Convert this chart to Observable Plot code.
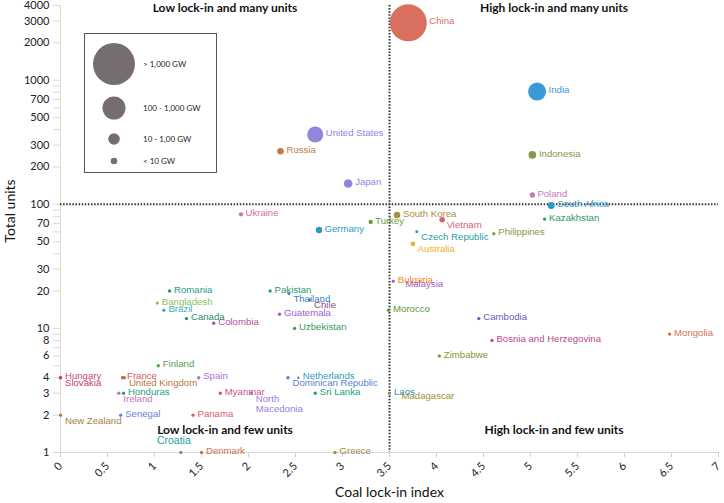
<!DOCTYPE html>
<html><head><meta charset="utf-8">
<script src="https://cdn.jsdelivr.net/npm/d3@7"></script>
<script src="https://cdn.jsdelivr.net/npm/@observablehq/plot@0.6"></script>
<style>
body{margin:0;background:#fff;}
#wrap{position:relative;width:724px;height:503px;overflow:hidden;}
#legend{position:absolute;left:84px;top:33px;}
</style></head><body><div id="wrap"></div>
<script>
// ---- data ----
const countries = ["China","India","United States","Russia","Japan","Indonesia","Poland","South Africa","Kazakhstan","Philippines","South Korea","Vietnam","Turkey","Czech Republic","Australia","Germany","Ukraine","Bulgaria","Malaysia","Morocco","Cambodia","Bosnia and Herzegovina","Mongolia","Zimbabwe","Laos","Madagascar","Romania","Bangladesh","Brazil","Canada","Colombia","Pakistan","Thailand","Chile","Guatemala","Uzbekistan","Finland","Hungary","Slovakia","France","United Kingdom","Honduras","Ireland","New Zealand","Senegal","Spain","Myanmar","North Macedonia","Panama","Croatia","Denmark","Greece","Netherlands","Dominican Republic","Sri Lanka"];
const lockIn = [3.70,5.07,2.71,2.34,3.06,5.02,5.02,5.22,5.15,4.61,3.58,4.06,3.30,3.79,3.75,2.75,1.92,3.54,3.54,3.49,4.45,4.59,6.48,4.03,3.50,3.50,1.16,1.03,1.10,1.34,1.63,2.23,2.43,2.65,2.33,2.49,1.04,0,0,0.66,0.68,0.67,0.62,0,0.64,1.47,1.70,2.03,1.41,1.28,1.50,2.92,2.53,2.42,2.71];
const totalUnits = [2900,810,365,268,147,250,119,98,76,58,82,75,72,60,48,62,83,24,24,14,12,8,9,6,3,3,20,16,14,12,11,20,19,17,13,10,5,4,4,4,4,3,3,2,2,4,3,3,2,1,1,1,4,4,3];
const capacityGW = [1100,260,206,35,60,47,23,39,9,9,35,25,15,7,17,33,15,7,7,9,9,9,9,9,7,7,9,9,9,9,9,9,7,5,9,9,9,9,9,9,9,9,9,9,9,9,9,9,9,9,9,9,5,9,9];
const yTickLabels = [1,2,3,4,6,8,10,20,30,50,70,100,200,300,500,700,1000,2000,3000,4000];
const xTicks = [0,0.5,1,1.5,2,2.5,3,3.5,4,4.5,5,5.5,6,6.5,7];
const lockInThreshold = 3.5;
const unitsThreshold = 100;
const quadrantTitles = ["Low lock-in and many units","High lock-in and many units","Low lock-in and few units","High lock-in and few units"];
const legendLabels = ["> 1,000 GW","100 - 1,000 GW","10 - 1,00 GW","< 10 GW"];

// ---- styles ----
const countryColor = {"China":"#d9705f","India":"#3a9ad6","United States":"#8f87dc","Russia":"#c07a45","Japan":"#8f87dc","Indonesia":"#7f9a4b","Poland":"#c878c0","South Africa":"#2d98c8","Kazakhstan":"#2f9a63","Philippines":"#8a9a3c","South Korea":"#a89040","Vietnam":"#d8607a","Turkey":"#6f9a40","Czech Republic":"#25a0a5","Australia":"#f2b125","Germany":"#2e9ac0","Ukraine":"#d070a8","Bulgaria":"#f08a25","Malaysia":"#a060c8","Morocco":"#5a9a3a","Cambodia":"#6a5eb0","Bosnia and Herzegovina":"#c04a88","Mongolia":"#d0734d","Zimbabwe":"#8f8f2f","Laos":"#2d8fc0","Madagascar":"#a09030","Romania":"#1f9a88","Bangladesh":"#8cc063","Brazil":"#3bb0b5","Canada":"#2a8c6c","Colombia":"#b04fa3","Pakistan":"#2a9a6a","Thailand":"#2a88d0","Chile":"#8f4a78","Guatemala":"#a060c8","Uzbekistan":"#33a060","Finland":"#52a052","Hungary":"#d04b6f","Slovakia":"#c0406a","France":"#d05a5a","United Kingdom":"#b8783a","Honduras":"#1aa07a","Ireland":"#d070b8","New Zealand":"#a48246","Senegal":"#6a80d6","Spain":"#b070d8","Myanmar":"#d0508a","North Macedonia":"#9a80d8","Panama":"#d85a6a","Croatia":"#1fa0a0","Denmark":"#d07050","Greece":"#a09040","Netherlands":"#2aa0c0","Dominican Republic":"#5a80d8","Sri Lanka":"#20a070"};
const dotColorOverride = {"Croatia":"#8a8a8a"};
const labelBelow = new Set(["Slovakia","United Kingdom","Ireland","New Zealand","Dominican Republic","Czech Republic","Australia","Thailand","Chile","Vietnam","North Macedonia"]);
const labelBelowFar = new Set(["Madagascar","Malaysia"]);
const labelAbove = new Set(["Croatia"]);
const labelText = {"North Macedonia":"North\nMacedonia"};

const rMax = 18.5, capMax = 1100;
const data = countries.map((c,i)=>({name:c,x:lockIn[i],y:totalUnits[i],cap:capacityGW[i]}))
  .sort((a,b)=>b.cap-a.cap);
const lab = d => labelText[d.name] || d.name;
const col = d => countryColor[d.name];
const dcol = d => dotColorOverride[d.name] || countryColor[d.name];
const isRight = d => !labelBelow.has(d.name)&&!labelBelowFar.has(d.name)&&!labelAbove.has(d.name);
const labelDx = d => Math.max(4.5, Math.round((rMax*Math.sqrt(d.cap/capMax) + 2.5)*2)/2);

const minorTicks = [];
for (let e=0;e<4;e++) for (let m=1;m<10;m++){const v=m*10**e; if(v<=4000) minorTicks.push(v);}
const labelSet = new Set(yTickLabels);

const labelFont = "'Liberation Sans', Arial, sans-serif";
const quad = quadrantTitles.map((t,i)=>({t, x: i%2===0 ? lockInThreshold/2 : (lockInThreshold+7)/2, top: i<2}));

const rightGroups = d3.groups(data.filter(isRight), labelDx);
const rightMarks = rightGroups.map(([dx, arr]) =>
  Plot.text(arr,{x:"x", y:"y", text:lab, fill:col, textAnchor:"start", dx, dy:-1.5, fontFamily:labelFont, fontSize:9.6}));

const chart = Plot.plot({
  width:724, height:503,
  marginLeft:60, marginRight:6, marginTop:5, marginBottom:51,
  style:{fontFamily:"Lato, sans-serif", fontSize:"10.5px", color:"#222", background:"#fff", overflow:"visible"},
  x:{domain:[0,7]},
  y:{type:"log", domain:[1,4000]},
  r:{type:"sqrt", domain:[0,capMax], range:[0,rMax]},
  marks:[
    Plot.ruleX([0],{stroke:"#d9d9d9"}),
    Plot.ruleY([1],{stroke:"#d9d9d9"}),
    Plot.axisX({ticks:xTicks, tickRotate:-45, text:d=>String(d), tickSize:5, stroke:"#d0d0d0", fill:"#222", fontSize:11, label:null}),
    Plot.axisY({ticks:minorTicks, text:d=>labelSet.has(d)?String(d):"", tickSize:7, tickPadding:4, stroke:"#d9d9d9", fill:"#222", fontSize:11, label:null}),
    Plot.ruleX([lockInThreshold],{stroke:"#333", strokeWidth:2, strokeDasharray:"1.5,1.6"}),
    Plot.ruleY([unitsThreshold],{stroke:"#333", strokeWidth:2, strokeDasharray:"1.5,1.6"}),
    Plot.dot(data,{x:"x", y:"y", r:"cap", fill:dcol, stroke:"none"}),
    ...rightMarks,
    Plot.text(data.filter(d=>labelBelow.has(d.name)),{x:"x", y:"y", text:lab, fill:col, textAnchor:"start", lineAnchor:"top", dx:4.5, dy:1, lineHeight:1.1, fontFamily:labelFont, fontSize:9.6}),
    Plot.text(data.filter(d=>labelBelowFar.has(d.name)),{x:"x", y:"y", text:lab, fill:col, textAnchor:"start", lineAnchor:"top", dx:12, dy:-1, fontFamily:labelFont, fontSize:9.6}),
    Plot.text(data.filter(d=>labelAbove.has(d.name)),{x:"x", y:"y", text:lab, fill:col, textAnchor:"middle", dx:-7, dy:-12, fontFamily:labelFont, fontSize:10.5}),
    Plot.text(quad.filter(d=>d.top),{x:"x", text:"t", frameAnchor:"top", lineAnchor:"middle", dy:3, fontWeight:"bold", fontSize:12, fill:"#111"}),
    Plot.text(quad.filter(d=>!d.top),{x:"x", text:"t", frameAnchor:"bottom", lineAnchor:"middle", dy:-22, fontWeight:"bold", fontSize:12, fill:"#111"}),
    Plot.text(["Coal lock-in index"],{frameAnchor:"bottom", lineAnchor:"middle", textAnchor:"middle", dy:40, fontSize:14, fill:"#111"}),
    Plot.text(["Total units"],{frameAnchor:"left", textAnchor:"middle", lineAnchor:"middle", dx:-50, dy:-18, rotate:-90, fontSize:14, fill:"#111"})
  ]
});
const wrap = document.getElementById("wrap");
wrap.appendChild(chart);

// legend overlay
const legendR = [21,11.5,5.8,3.3];
const legendCy = [31,75,106,128];
const lg = d3.select(wrap).append("svg").attr("id","legend").attr("width",134).attr("height",141);
lg.append("rect").attr("x",0.5).attr("y",0.5).attr("width",132).attr("height",139).attr("fill","#fff").attr("stroke","#555");
legendLabels.forEach((t,i)=>{
  lg.append("circle").attr("cx",30).attr("cy",legendCy[i]).attr("r",legendR[i]).attr("fill","#766e6e");
  lg.append("text").attr("x",59).attr("y",legendCy[i]).attr("dy","0.35em").attr("font-family","Lato, sans-serif").attr("font-size","8px").attr("fill","#222").text(t);
});
</script></body></html>
